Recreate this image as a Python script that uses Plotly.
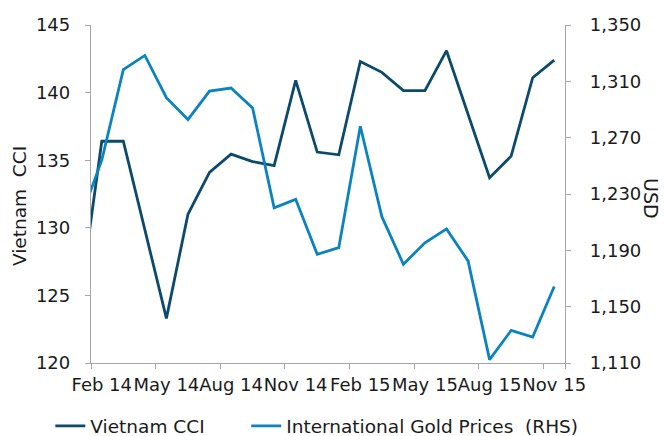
import plotly.graph_objects as go

months = ["Jan 14", "Feb 14", "Mar 14", "Apr 14", "May 14", "Jun 14", "Jul 14", "Aug 14",
          "Sep 14", "Oct 14", "Nov 14", "Dec 14", "Jan 15", "Feb 15", "Mar 15", "Apr 15",
          "May 15", "Jun 15", "Jul 15", "Aug 15", "Sep 15", "Oct 15", "Nov 15"]

vietnam_cci = [124.8, 136.4, 136.4, 129.9, 123.3, 131.0, 134.1, 135.45, 134.9, 134.6,
               140.9, 135.6, 135.4, 142.3, 141.5, 140.15, 140.15, 143.1, 138.4, 133.7,
               135.3, 141.1, 142.4]

gold_prices = [1212, 1254, 1318.3, 1328.4, 1298.4, 1282.9, 1303.1, 1305.2, 1291.1, 1220.2,
               1226.2, 1187.2, 1191.9, 1278.1, 1213.9, 1180.1, 1195.4, 1205.2, 1182.5, 1112.4,
               1133.1, 1128.4, 1164.3]

tick_labels = ["Feb 14", "May 14", "Aug 14", "Nov 14", "Feb 15", "May 15", "Aug 15", "Nov 15"]
left_ticks = [120, 125, 130, 135, 140, 145]
right_ticks = [1110, 1150, 1190, 1230, 1270, 1310, 1350]

FONT = "DejaVu Sans"
AXIS_COLOR = "#a6a6a6"
TEXT = "#1a1a1a"
DARK = "#0b4a6d"
LIGHT = "#0a83c0"

fig = go.Figure()
fig.add_trace(go.Scatter(x=months, y=vietnam_cci, mode="lines", name="Vietnam CCI",
                         line=dict(color=DARK, width=2.8), yaxis="y", legend="legend"))
fig.add_trace(go.Scatter(x=months, y=gold_prices, mode="lines",
                         name="International Gold Prices  (RHS)",
                         line=dict(color=LIGHT, width=2.8), yaxis="y2", legend="legend2"))

W, H = 664, 436
L, R, T, B = 90.7, 565, 25, 363.5
pw, ph = R - L, B - T

leg_common = dict(orientation="h", xanchor="left", yanchor="bottom",
                  y=-(446 - B) / ph,
                  font=dict(family=FONT, size=18.5, color=TEXT),
                  bgcolor="rgba(0,0,0,0)", borderwidth=0)

fig.update_layout(
    width=W, height=H,
    margin=dict(l=L, r=W - R, t=T, b=H - B, autoexpand=False),
    paper_bgcolor="white", plot_bgcolor="white",
    font=dict(family=FONT, size=18, color=TEXT),
    showlegend=True,
    legend=dict(x=(50 - L) / pw, **leg_common),
    legend2=dict(x=(246 - L) / pw, **leg_common),
    xaxis=dict(type="category", categoryorder="array", categoryarray=months,
               range=[0.5, len(months) - 0.5],
               tickmode="array", tickvals=tick_labels, ticktext=tick_labels,
               tickson="boundaries", ticks="outside", ticklen=5, tickwidth=1,
               tickcolor=AXIS_COLOR, showline=True, linecolor=AXIS_COLOR, linewidth=1.3,
               showgrid=False, zeroline=False, tickangle=0, ticklabelstandoff=5,
               tickfont=dict(family=FONT, size=18, color=TEXT)),
    yaxis=dict(range=[120, 145], tickvals=left_ticks, ticks="outside", ticklen=5,
               tickcolor=AXIS_COLOR, showline=True, linecolor=AXIS_COLOR, linewidth=1.3,
               showgrid=False, zeroline=False, ticklabelstandoff=11,
               tickfont=dict(family=FONT, size=18, color=TEXT)),
    yaxis2=dict(range=[1110, 1350], tickvals=right_ticks, tickformat=",",
                overlaying="y", side="right", ticks="outside", ticklen=5,
                tickcolor=AXIS_COLOR, showline=True, linecolor=AXIS_COLOR, linewidth=1.3,
                showgrid=False, zeroline=False, ticklabelstandoff=15,
                tickfont=dict(family=FONT, size=18, color=TEXT)),
    annotations=[
        dict(text="Vietnam  CCI", xref="paper", yref="paper",
             x=(19 - L) / pw, y=(B - 206) / ph, xanchor="center", yanchor="middle",
             textangle=-90, showarrow=False,
             font=dict(family=FONT, size=18.5, color=TEXT)),
        dict(text="USD", xref="paper", yref="paper",
             x=(651.7 - L) / pw, y=(B - 199) / ph, xanchor="center", yanchor="middle",
             textangle=90, showarrow=False,
             font=dict(family=FONT, size=19, color=TEXT)),
    ],
)

fig.write_html("out.html")
